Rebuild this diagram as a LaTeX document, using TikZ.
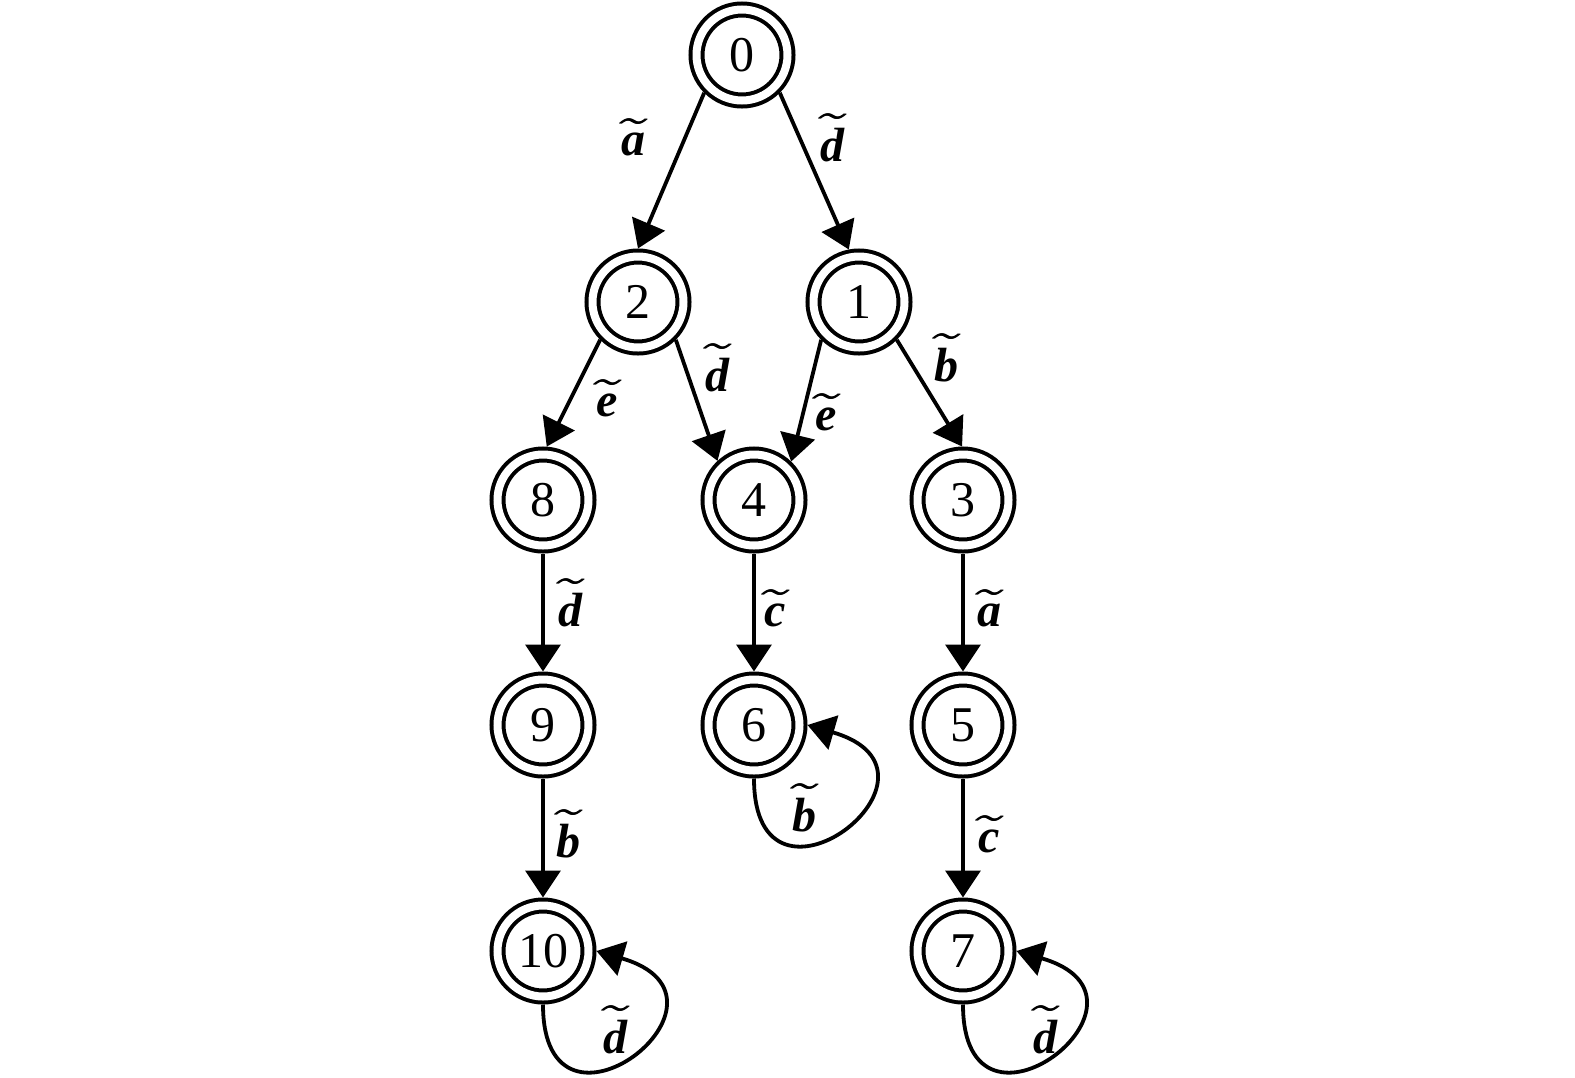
\documentclass[tikz,border=0pt]{standalone}
\usepackage{fontspec}
\setmainfont{Liberation Serif}
\usetikzlibrary{arrows.meta}
\newcommand\tlph[1]{$\widetilde{\phantom{\mbox{\bfseries\itshape #1}}}$}
\newcommand\tl[1]{\leavevmode\rlap{\kern0.04em\tlph{#1}}\rlap{\kern0.02em\tlph{#1}}$\widetilde{\mbox{\bfseries\itshape #1}}$}
\begin{document}
\begin{tikzpicture}[x=1pt,y=-1pt,
  st/.style={circle,draw,line width=4pt,double,double distance=8pt,minimum size=91pt,inner sep=0pt,outer sep=8pt,font=\fontsize{50}{50}\selectfont},
  arr/.style={line width=3.8pt,-{Triangle[length=27pt,width=35pt]}},
  lb/.style={inner sep=0pt,font=\fontsize{10}{10}\selectfont,scale=4.8,transform shape}]
\useasboundingbox (0,0) rectangle (1575,1077);
\node[st] (n0) at (742,55) {0};
\node[st] (n2) at (638,302) {2};
\node[st] (n1) at (859,302) {1};
\node[st] (n8) at (543,500) {8};
\node[st] (n4) at (754,500) {4};
\node[st] (n3) at (963,500) {3};
\node[st] (n9) at (543,725) {9};
\node[st] (n6) at (754,725) {6};
\node[st] (n5) at (963,725) {5};
\node[st] (n10) at (543,951) {10};
\node[st] (n7) at (963,951) {7};
\draw[arr] (n0.-135) -- (n2.90);
\draw[arr] (n0.-45) -- (n1.101);
\draw[arr] (n2.-135) -- (n8.86);
\draw[arr] (n2.-45) -- (n4.133);
\draw[arr] (n1.-135) -- (n4.46);
\draw[arr] (n1.-45) -- (n3.91);
\draw[arr] (n8.south) -- (n9.north);
\draw[arr] (n4.south) -- (n6.north);
\draw[arr] (n3.south) -- (n5.north);
\draw[arr] (n9.south) -- (n10.north);
\draw[arr] (n5.south) -- (n7.north);
\draw[arr] (n6.south) .. controls +(0,160) and +(162,47) .. (n6.east);
\draw[arr] (n10.south) .. controls +(0,160) and +(162,47) .. (n10.east);
\draw[arr] (n7.south) .. controls +(0,160) and +(162,47) .. (n7.east);
\node[lb] (l02) at (633,137) {\tl{a}};
\node[lb] (l01) at (832,138) {\tl{d}};
\node[lb] (l28) at (607,398) {\tl{e}};
\node[lb] (l24) at (717,368) {\tl{d}};
\node[lb] (l14) at (826,412) {\tl{e}};
\node[lb] (l13) at (946,358) {\tl{b}};
\node[lb] (l89) at (570,603) {\tl{d}};
\node[lb] (l46) at (775,608) {\tl{c}};
\node[lb] (l35) at (989,608) {\tl{a}};
\node[lb] (l910) at (568,834) {\tl{b}};
\node[lb] (l57) at (989,834) {\tl{c}};
\node[lb] (l66) at (804,808) {\tl{b}};
\node[lb] (l1010) at (615,1030) {\tl{d}};
\node[lb] (l77) at (1045,1030) {\tl{d}};
\end{tikzpicture}
\end{document}
